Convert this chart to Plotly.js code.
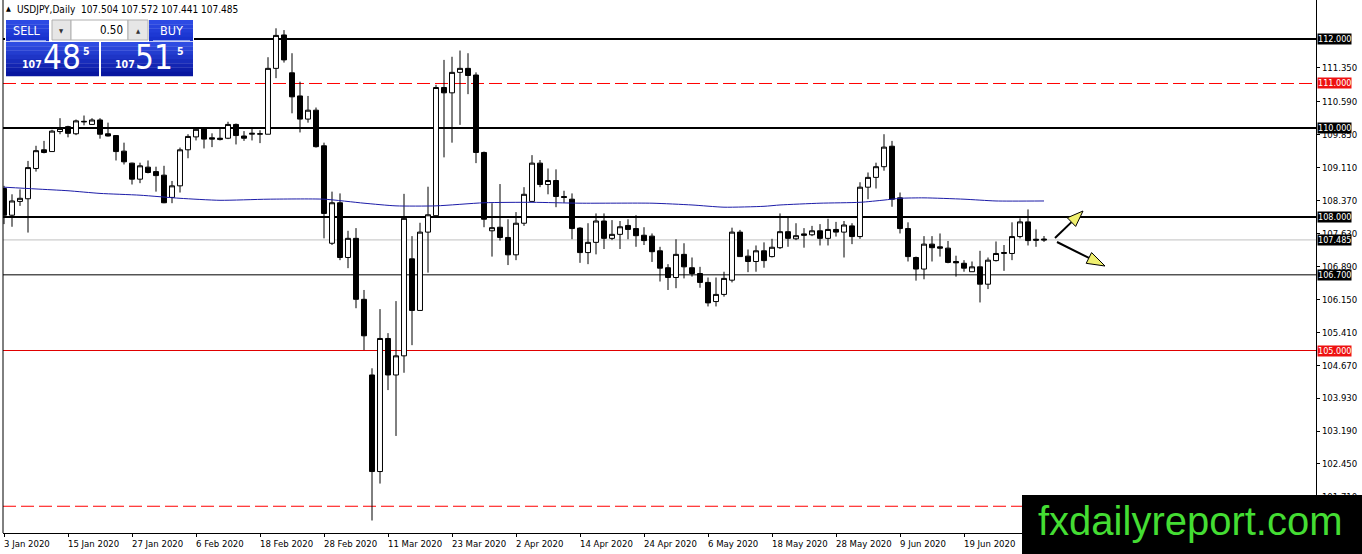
<!DOCTYPE html>
<html><head><meta charset="utf-8">
<script src="https://cdn.plot.ly/plotly-3.0.1.min.js"></script>
<style>html,body{margin:0;padding:0;background:#fff;overflow:hidden}#chart{width:1362px;height:554px}</style>
</head><body><div id="chart"></div>
<script>
const dates = ["2020-01-03",
"2020-01-06","2020-01-07","2020-01-08","2020-01-09","2020-01-10",
"2020-01-13","2020-01-14","2020-01-15","2020-01-16","2020-01-17",
"2020-01-20","2020-01-21","2020-01-22","2020-01-23","2020-01-24",
"2020-01-27","2020-01-28","2020-01-29","2020-01-30","2020-01-31",
"2020-02-03","2020-02-04","2020-02-05","2020-02-06","2020-02-07",
"2020-02-10","2020-02-11","2020-02-12","2020-02-13","2020-02-14",
"2020-02-17","2020-02-18","2020-02-19","2020-02-20","2020-02-21",
"2020-02-24","2020-02-25","2020-02-26","2020-02-27","2020-02-28",
"2020-03-02","2020-03-03","2020-03-04","2020-03-05","2020-03-06",
"2020-03-09","2020-03-10","2020-03-11","2020-03-12","2020-03-13",
"2020-03-16","2020-03-17","2020-03-18","2020-03-19","2020-03-20",
"2020-03-23","2020-03-24","2020-03-25","2020-03-26","2020-03-27",
"2020-03-30","2020-03-31","2020-04-01","2020-04-02","2020-04-03",
"2020-04-06","2020-04-07","2020-04-08","2020-04-09","2020-04-10",
"2020-04-13","2020-04-14","2020-04-15","2020-04-16","2020-04-17",
"2020-04-20","2020-04-21","2020-04-22","2020-04-23","2020-04-24",
"2020-04-27","2020-04-28","2020-04-29","2020-04-30","2020-05-01",
"2020-05-04","2020-05-05","2020-05-06","2020-05-07","2020-05-08",
"2020-05-11","2020-05-12","2020-05-13","2020-05-14","2020-05-15",
"2020-05-18","2020-05-19","2020-05-20","2020-05-21","2020-05-22",
"2020-05-25","2020-05-26","2020-05-27","2020-05-28","2020-05-29",
"2020-06-01","2020-06-02","2020-06-03","2020-06-04","2020-06-05",
"2020-06-08","2020-06-09","2020-06-10","2020-06-11","2020-06-12",
"2020-06-15","2020-06-16","2020-06-17","2020-06-18","2020-06-19",
"2020-06-22","2020-06-23","2020-06-24","2020-06-25","2020-06-26",
"2020-06-29","2020-06-30","2020-07-01","2020-07-02","2020-07-03"];

const open = [108.64,
108.04,108.35,108.41,109.09,109.51,
109.47,109.92,110.03,109.87,110.15,
110.08,110.18,109.87,109.83,109.48,
109.21,108.85,109.12,109.02,108.94,
108.44,108.70,109.51,109.80,109.99,
109.78,109.74,109.77,110.08,109.82,
109.86,109.86,109.86,111.34,112.09,
111.24,110.72,110.20,110.40,109.60,
107.41,108.32,107.09,107.52,106.15,
104.45,102.28,105.27,104.45,104.88,
107.06,105.90,107.66,108.03,110.91,
110.79,111.25,111.34,111.19,109.45,
107.69,107.77,107.54,107.15,107.86,
108.35,109.21,108.73,108.82,108.46,
108.40,107.75,107.20,107.43,107.91,
107.52,107.61,107.81,107.74,107.59,
107.57,107.24,106.86,106.64,107.16,
106.86,106.73,106.53,106.10,106.26,
106.58,107.66,107.12,107.00,107.24,
107.11,107.31,107.67,107.51,107.62,
107.60,107.69,107.52,107.72,107.66,
107.80,107.56,108.67,108.89,109.13,
109.59,108.43,107.74,107.09,106.83,
107.39,107.33,107.30,107.00,106.96,
106.77,106.88,106.49,107.02,107.18,
107.18,107.56,107.89,107.50,107.504];

const high = [108.70,
108.51,108.62,109.26,109.60,109.71,
109.96,110.22,110.05,110.19,110.28,
110.22,110.22,110.12,109.84,109.67,
109.22,109.22,109.27,109.13,109.15,
108.81,109.56,109.86,110.02,110.02,
109.88,109.99,110.14,110.10,109.93,
109.99,109.95,111.59,112.24,112.20,
111.68,111.04,110.72,110.46,109.67,
108.57,108.53,107.69,107.75,106.36,
104.60,105.93,105.39,106.11,108.52,
107.57,107.87,108.68,110.97,111.53,
111.60,111.74,111.68,111.25,109.47,
108.31,108.74,107.95,108.11,108.67,
109.39,109.28,109.09,109.07,108.59,
108.53,107.77,107.86,108.08,108.08,
107.93,107.91,107.95,108.04,107.77,
107.63,107.33,106.94,107.50,107.41,
107.09,106.88,106.64,106.64,106.77,
107.76,107.71,107.27,107.36,107.43,
107.51,108.08,107.98,107.86,107.75,
107.80,107.84,107.96,107.89,107.91,
107.86,108.78,109.00,109.22,109.86,
109.71,108.55,107.88,107.11,107.57,
107.57,107.63,107.46,107.13,107.03,
107.00,107.24,107.09,107.45,107.37,
107.88,107.97,108.17,107.72,107.572];

const low = [107.84,
107.78,108.25,107.65,109.02,109.43,
109.47,109.86,109.79,109.84,110.06,
110.07,109.76,109.81,109.27,109.18,
108.73,108.76,108.98,108.57,108.31,
108.31,108.55,109.32,109.72,109.54,
109.57,109.72,109.75,109.63,109.71,
109.72,109.66,109.86,111.12,111.47,
110.33,109.90,110.12,109.56,107.52,
107.37,107.03,106.85,105.95,105.01,
101.18,102.01,104.11,103.08,104.50,
105.12,105.90,106.75,108.03,109.34,
109.67,110.07,110.76,109.21,107.77,
107.11,107.47,106.92,107.03,107.80,
108.35,108.67,108.51,108.22,108.32,
107.50,106.97,106.94,107.16,107.28,
107.48,107.28,107.50,107.33,107.37,
106.99,106.55,106.36,106.40,106.62,
106.66,106.41,105.99,105.99,106.21,
106.53,107.11,106.76,106.77,106.86,
107.09,107.28,107.33,107.48,107.31,
107.57,107.36,107.36,107.56,107.09,
107.39,107.51,108.40,108.64,109.04,
108.23,107.63,107.00,106.57,106.60,
107.00,107.11,106.96,106.66,106.77,
106.77,106.08,106.38,107.00,106.79,
107.03,107.52,107.36,107.33,107.441];

const close = [108.04,
108.36,108.42,109.11,109.49,109.45,
109.93,109.99,109.88,110.16,110.14,
110.18,109.86,109.82,109.47,109.24,
108.85,109.15,109.00,108.93,108.32,
108.70,109.51,109.81,109.97,109.75,
109.75,109.77,110.08,109.83,109.77,
109.88,109.87,111.34,112.08,111.53,
110.70,110.20,110.40,109.58,108.08,
108.32,107.09,107.52,106.15,105.33,
102.28,105.27,104.45,104.88,107.97,
105.90,107.66,108.05,110.91,110.79,
111.25,111.34,111.18,109.45,107.95,
107.76,107.54,107.15,107.86,108.51,
109.21,108.73,108.82,108.46,108.44,
107.74,107.20,107.43,107.91,107.52,
107.61,107.78,107.72,107.58,107.47,
107.22,106.85,106.64,107.16,106.88,
106.73,106.53,106.07,106.26,106.62,
107.66,107.11,107.00,107.24,107.02,
107.32,107.67,107.52,107.58,107.59,
107.69,107.52,107.72,107.66,107.82,
107.56,108.67,108.89,109.13,109.57,
108.40,107.74,107.11,106.83,107.39,
107.31,107.30,106.98,106.97,106.85,
106.88,106.49,107.03,107.18,107.20,
107.56,107.89,107.47,107.48,107.485];

// moving average (read at selected bars)
const maDates = ["2020-01-03","2020-01-09","2020-01-15","2020-01-21","2020-01-28","2020-02-04","2020-02-11","2020-02-19","2020-02-28","2020-03-06","2020-03-12","2020-03-19","2020-03-27","2020-04-06","2020-04-14","2020-04-27","2020-05-04","2020-05-08","2020-05-15","2020-05-19","2020-05-26","2020-06-02","2020-06-05","2020-06-09","2020-06-12","2020-06-19","2020-06-25","2020-07-03"];
const maValues = [108.67,108.63,108.59,108.53,108.49,108.42,108.375,108.40,108.40,108.31,108.25,108.25,108.32,108.33,108.31,108.31,108.27,108.22,108.24,108.27,108.31,108.33,108.38,108.42,108.43,108.40,108.36,108.36];

const tickDates = ["2020-01-03","2020-01-15","2020-01-27","2020-02-06","2020-02-18","2020-02-28","2020-03-11","2020-03-23","2020-04-02","2020-04-14","2020-04-24","2020-05-06","2020-05-18","2020-05-28","2020-06-09","2020-06-19"];
const tickLabels = ["3 Jan 2020","15 Jan 2020","27 Jan 2020","6 Feb 2020","18 Feb 2020","28 Feb 2020","11 Mar 2020","23 Mar 2020","2 Apr 2020","14 Apr 2020","24 Apr 2020","6 May 2020","18 May 2020","28 May 2020","9 Jun 2020","19 Jun 2020"];
const priceTicks = [111.35,110.59,109.85,109.11,108.37,107.63,106.89,106.15,105.41,104.67,103.93,103.19,102.45,101.71];

const levelPrices = [112, 111, 110, 108, 106.7, 105, 101.5];
const levelStyles = [
  {color:'#000000', width:2, dash:'solid', tag:'#000000'},
  {color:'#ff0000', width:1, dash:'13px,5px', tag:'#ee1111'},
  {color:'#000000', width:2, dash:'solid', tag:'#000000'},
  {color:'#000000', width:2, dash:'solid', tag:'#000000'},
  {color:'#000000', width:1, dash:'solid', tag:'#000000'},
  {color:'#e00000', width:1, dash:'solid', tag:'#ee1111'},
  {color:'#ff0000', width:1, dash:'13px,5px', tag:null}
];
const bidPrice = close[close.length-1];

const FONT = 'DejaVu Sans Condensed, DejaVu Sans, Liberation Sans, sans-serif';
// pixel -> paper helpers for decorations
const PX = x => (x - 3) / 1313;
const PY = y => (533 - y) / 533;

const shapes = [];
const annotations = [];

levelPrices.forEach((p, i) => {
  const s = levelStyles[i];
  shapes.push({type:'line', xref:'paper', yref:'y', x0:0, x1:1, y0:p, y1:p, layer:'below',
    line:{color:s.color, width:s.width, dash:s.dash}});
  if (s.tag) annotations.push({xref:'paper', yref:'y', x:1, y:p, xanchor:'left', yanchor:'middle', xshift:1,
    text:p.toFixed(3), showarrow:false, bgcolor:s.tag, borderpad:0, font:{family:FONT, size:9, color:'#ffffff'}});
});
shapes.push({type:'line', xref:'paper', yref:'y', x0:0, x1:1, y0:bidPrice, y1:bidPrice, layer:'below',
  line:{color:'#c0c0c0', width:1}});
annotations.push({xref:'paper', yref:'y', x:1, y:bidPrice, xanchor:'left', yanchor:'middle', xshift:1,
  text:bidPrice.toFixed(3), showarrow:false, bgcolor:'#000000', borderpad:0, font:{family:FONT, size:9, color:'#ffffff'}});

// left border
shapes.push({type:'line', xref:'paper', yref:'paper', x0:0, x1:0, y0:0, y1:1, line:{color:'#000', width:1}});

// date labels
tickDates.forEach((d, i) => {
  annotations.push({xref:'x', yref:'paper', x:d, y:0, xanchor:'left', yanchor:'top', xshift:-2, yshift:-3,
    text:tickLabels[i], showarrow:false, font:{family:FONT, size:9.5, color:'#000'}});
});

function rect(x0, y0, x1, y1, fill, lc) {
  shapes.push({type:'rect', xref:'paper', yref:'paper', x0:PX(x0), x1:PX(x1), y0:PY(y1), y1:PY(y0),
    fillcolor:fill, line:{color:lc || fill, width:lc ? 1 : 0}, layer:'above'});
}
function grad(x0, y0, x1, y1, c0, c1, n) {
  for (let k = 0; k < n; k++) {
    const t = k / (n - 1);
    const c = c0.map((v, j) => Math.round(v + (c1[j] - v) * t));
    const ya = y0 + (y1 - y0) * k / n, yb = y0 + (y1 - y0) * (k + 1) / n;
    rect(x0, ya, x1, yb + 0.3, 'rgb(' + c.join(',') + ')');
  }
}
function txt(x, y, t, size, color, anchor, bold) {
  annotations.push({xref:'paper', yref:'paper', x:PX(x), y:PY(y), xanchor:anchor || 'center', yanchor:'middle',
    text: bold ? '<b>' + t + '</b>' : t, showarrow:false, borderpad:0,
    font:{family:FONT, size:size, color:color}});
}

// header
txt(5, 9, '▲', 7, '#000', 'left');
txt(16, 9, 'USDJPY,Daily\u00a0\u00a0107.504 107.572 107.441 107.485', 10, '#000', 'left');

// one-click trading panel
rect(5, 19, 194, 77, '#ffffff');
grad(6, 20, 49, 41, [44,74,228], [24,50,205], 5);
grad(149, 20, 193, 41, [44,74,228], [24,50,205], 5);
rect(52, 20, 71, 40, '#e6e6e6', '#b0b0b0');
rect(71, 20, 128, 40, '#ffffff', '#b0b0b0');
rect(128, 20, 148, 40, '#e6e6e6', '#b0b0b0');
grad(6, 42, 99, 76, [46,76,226], [8,22,160], 8);
grad(101, 42, 193, 76, [46,76,226], [8,22,160], 8);
shapes.push({type:'line', xref:'paper', yref:'paper', x0:PX(10), x1:PX(46), y0:PY(40.5), y1:PY(40.5), line:{color:'#8aa0f0', width:1}, layer:'above'});
shapes.push({type:'line', xref:'paper', yref:'paper', x0:PX(153), x1:PX(190), y0:PY(40.5), y1:PY(40.5), line:{color:'#8aa0f0', width:1}, layer:'above'});
txt(27.5, 30.5, 'SELL', 12.5, '#ffffff');
txt(171, 30.5, 'BUY', 12.5, '#ffffff');
txt(61.5, 30, '▼', 6, '#333');
txt(138, 30, '▲', 6, '#333');
txt(124, 30, '0.50', 11.5, '#000', 'right');
txt(31.5, 64, '107', 10.5, '#ffffff', 'center', true);
txt(61.5, 57.5, '48', 33, '#ffffff');
txt(86.5, 51, '5', 10.5, '#ffffff', 'center', true);
txt(125, 64, '107', 10.5, '#ffffff', 'center', true);
txt(153.5, 57.5, '51', 33, '#ffffff');
txt(180.5, 51, '5', 10.5, '#ffffff', 'center', true);

// arrows
function arrow(sx, sy, tx, ty, headLen, headHalf) {
  const dx = tx - sx, dy = ty - sy, len = Math.hypot(dx, dy);
  const ux = dx / len, uy = dy / len, bx = tx - ux * headLen, by = ty - uy * headLen;
  const c1 = [bx - uy * headHalf, by + ux * headHalf], c2 = [bx + uy * headHalf, by - ux * headHalf];
  shapes.push({type:'line', xref:'paper', yref:'paper', x0:PX(sx), y0:PY(sy), x1:PX(bx), y1:PY(by),
    line:{color:'#000', width:2}, layer:'above'});
  shapes.push({type:'path', xref:'paper', yref:'paper', layer:'above',
    path:'M' + PX(tx) + ',' + PY(ty) + ' L' + PX(c1[0]) + ',' + PY(c1[1]) + ' L' + PX(c2[0]) + ',' + PY(c2[1]) + ' Z',
    fillcolor:'#f0f070', line:{color:'#000', width:1}});
}
arrow(1055, 238, 1083, 211, 16, 6);
arrow(1057, 242, 1105, 266, 18, 6);

// watermark
rect(1022, 495, 1362, 554, '#000000');
annotations.push({xref:'paper', yref:'paper', x:PX(1190.5), y:PY(521), xanchor:'center', yanchor:'middle',
  text:'fxdailyreport.com', showarrow:false, font:{family:'Liberation Sans, Arial, sans-serif', size:40, color:'#44dd33'}});

const traces = [
  {type:'candlestick', x:dates, open:open, high:high, low:low, close:close,
   increasing:{line:{color:'#000000', width:1}, fillcolor:'#ffffff'},
   decreasing:{line:{color:'#000000', width:1}, fillcolor:'#000000'},
   whiskerwidth:0, hoverinfo:'skip', showlegend:false},
  {type:'scatter', mode:'lines', x:maDates, y:maValues, line:{color:'#1c1ca8', width:1, shape:'spline', smoothing:0.6},
   hoverinfo:'skip', showlegend:false}
];

const layout = {
  width:1362, height:554,
  margin:{l:3, r:46, t:0, b:21, pad:0},
  paper_bgcolor:'#ffffff', plot_bgcolor:'#ffffff',
  showlegend:false,
  boxgap:0.35, boxgroupgap:0.05,
  xaxis:{type:'category', categoryorder:'array', categoryarray:dates,
    range:[-0.125, 164], rangeslider:{visible:false}, showgrid:false, zeroline:false,
    showline:true, linecolor:'#000', linewidth:1,
    tickmode:'array', tickvals:tickDates, ticks:'outside', ticklen:3, tickcolor:'#000',
    showticklabels:false, fixedrange:true},
  yaxis:{side:'right', range:[100.899, 112.876], showgrid:false, zeroline:false,
    showline:true, linecolor:'#000', linewidth:1, mirror:false,
    tickmode:'array', tickvals:priceTicks, ticktext:priceTicks.map(v => v.toFixed(3)),
    ticks:'outside', ticklen:3, tickcolor:'#000',
    tickfont:{family:FONT, size:9.5, color:'#000'}, fixedrange:true},
  shapes:shapes,
  annotations:annotations
};

Plotly.newPlot('chart', traces, layout, {displayModeBar:false, staticPlot:true});
</script>
</body></html>
